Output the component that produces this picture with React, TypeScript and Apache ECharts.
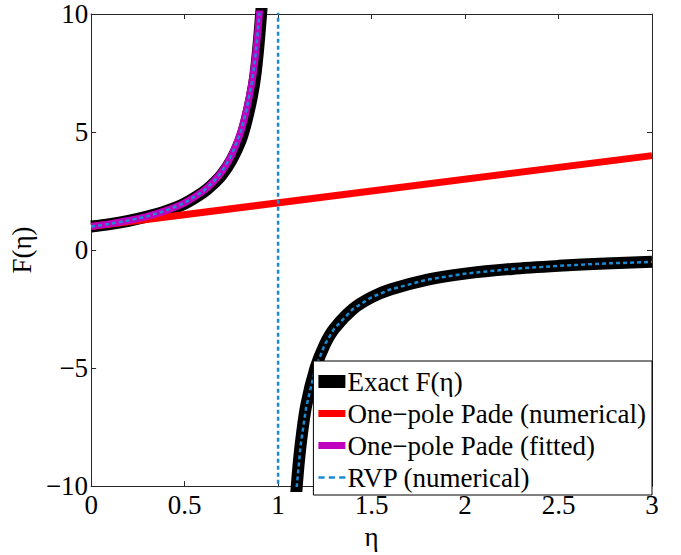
import React, { useEffect, useRef } from "react";
import * as echarts from "echarts";

// x values (eta) for the branch left of the pole
const etaUpper = [0, 0.1, 0.2, 0.3, 0.4, 0.5, 0.6, 0.65, 0.7, 0.75, 0.8, 0.83, 0.86, 0.88, 0.9, 0.92, 0.94];
// x values (eta) for the branch right of the pole
const etaLower = [1.07, 1.08, 1.1, 1.12, 1.15, 1.2, 1.25, 1.3, 1.4, 1.5, 1.6, 1.8, 2.0, 2.25, 2.5, 2.75, 3.0];

// Exact F(eta)
const exactUpper = [1.0, 1.1, 1.24, 1.42, 1.65, 1.97, 2.45, 2.78, 3.2, 3.8, 4.65, 5.45, 6.5, 7.5, 9.1, 11.2, 14.0];
const exactLower = [-14.0, -12.5, -10.0, -8.3, -6.6, -5.0, -4.0, -3.33, -2.5, -2.0, -1.67, -1.25, -1.0, -0.8, -0.67, -0.57, -0.5];

// One-pole Pade (numerical): straight line
const padeNumEta = [0, 3];
const padeNumVal = [1.0, 4.0];

// One-pole Pade (fitted): only left of the pole
const padeFitVal = [1.0, 1.11, 1.25, 1.43, 1.67, 2.0, 2.5, 2.86, 3.33, 4.0, 5.0, 5.9, 7.1, 8.3, 10.0, 12.5, 16.7];

// RVP (numerical)
const rvpUpper = [1.0, 1.11, 1.25, 1.43, 1.67, 2.0, 2.5, 2.86, 3.33, 4.0, 5.0, 5.9, 7.1, 8.3, 10.0, 12.5, 16.7];
const rvpLower = [-14.3, -12.5, -10.0, -8.3, -6.67, -5.0, -4.0, -3.33, -2.5, -2.0, -1.67, -1.25, -1.0, -0.8, -0.67, -0.57, -0.5];
const rvpPoleEta = 1;
const rvpPoleJump = [60, -60];

const xTicks = [0, 0.5, 1, 1.5, 2, 2.5, 3];
const yTicks = [-10, -5, 0, 5, 10];

const legendNames = [
  "Exact F(η)",
  "One−pole Pade (numerical)",
  "One−pole Pade (fitted)",
  "RVP (numerical)",
];

const FONT = "Liberation Serif";

export default function App() {
  const ref = useRef<HTMLDivElement>(null);
  useEffect(() => {
    if (!ref.current) return;
    const chart = echarts.init(ref.current, null, { renderer: "svg" });

    const zip = (xs: number[], ys: number[]) => xs.map((x, i) => [x, ys[i]]);
    const exactData: any[] = [...zip(etaUpper, exactUpper), [null, null], ...zip(etaLower, exactLower)];
    const rvpData: any[] = [
      ...zip(etaUpper, rvpUpper),
      [rvpPoleEta, rvpPoleJump[0]],
      [rvpPoleEta, rvpPoleJump[1]],
      ...zip(etaLower, rvpLower),
    ];

    const fmtNum = (v: number) => (v < 0 ? "−" + String(Math.abs(v)) : String(v));

    const axisLine = { show: true, onZero: false, lineStyle: { color: "#262626", width: 1 } };
    const axisTick = { show: true, inside: true, length: 5, lineStyle: { color: "#262626", width: 1 } };

    chart.setOption({
      animation: false,
      backgroundColor: "#ffffff",
      textStyle: { fontFamily: FONT },
      grid: { left: 90, right: 29, top: 14, bottom: 57, containLabel: false },
      xAxis: [
        {
          type: "value",
          min: xTicks[0],
          max: xTicks[xTicks.length - 1],
          interval: 0.5,
          position: "bottom",
          name: "η",
          nameLocation: "middle",
          nameGap: 23,
          nameTextStyle: { fontFamily: FONT, fontSize: 27, color: "#000" },
          axisLine,
          axisTick,
          splitLine: { show: false },
          axisLabel: {
            fontFamily: FONT,
            fontSize: 27,
            color: "#000",
            margin: 5,
            formatter: (v: number) => fmtNum(v),
          },
        },
        {
          type: "value",
          min: xTicks[0],
          max: xTicks[xTicks.length - 1],
          interval: 0.5,
          position: "top",
          axisLine,
          axisTick,
          splitLine: { show: false },
          axisLabel: { show: false },
        },
      ],
      yAxis: [
        {
          type: "value",
          min: yTicks[0],
          max: yTicks[yTicks.length - 1],
          interval: 5,
          position: "left",
          name: "F(η)",
          nameLocation: "middle",
          nameGap: 52,
          nameTextStyle: { fontFamily: FONT, fontSize: 27, color: "#000" },
          axisLine,
          axisTick,
          splitLine: { show: false },
          axisLabel: {
            fontFamily: FONT,
            fontSize: 27,
            color: "#000",
            margin: 3,
            formatter: (v: number) => fmtNum(v),
          },
        },
        {
          type: "value",
          min: yTicks[0],
          max: yTicks[yTicks.length - 1],
          interval: 5,
          position: "right",
          axisLine,
          axisTick,
          splitLine: { show: false },
          axisLabel: { show: false },
        },
      ],
      legend: {
        orient: "vertical",
        right: 29,
        bottom: 60,
        padding: [7, 6, 4, 5],
        itemGap: 5,
        itemWidth: 27,
        itemHeight: 13,
        backgroundColor: "#ffffff",
        borderColor: "#000000",
        borderWidth: 1,
        borderRadius: 0,
        itemStyle: { borderWidth: 0 },
        textStyle: { fontFamily: FONT, fontSize: 27, color: "#000", lineHeight: 27, padding: [0, 0, 0, -3] },
        data: [
          { name: legendNames[0], icon: "path://M0,0H27V13H0Z" },
          { name: legendNames[1], icon: "path://M0,0H27V7H0Z" },
          { name: legendNames[2], icon: "path://M0,0H27V7H0Z" },
          { name: legendNames[3], icon: "path://M0,0H6V2.5H0Z M10,0H16V2.5H10Z M20,0H26V2.5H20Z" },
        ],
      },
      series: [
        {
          name: legendNames[0],
          type: "line",
          data: exactData,
          showSymbol: false,
          symbol: "none",
          connectNulls: false,
          smooth: 0.3,
          lineStyle: { color: "#000000", width: 12 },
          itemStyle: { color: "#000000" },
          clip: true,
        },
        {
          name: legendNames[1],
          type: "line",
          data: zip(padeNumEta, padeNumVal),
          showSymbol: false,
          symbol: "none",
          lineStyle: { color: "#ff0000", width: 7 },
          itemStyle: { color: "#ff0000" },
          clip: true,
        },
        {
          name: legendNames[2],
          type: "line",
          data: zip(etaUpper, padeFitVal),
          showSymbol: false,
          symbol: "none",
          smooth: 0.3,
          lineStyle: { color: "#bf00bf", width: 7 },
          itemStyle: { color: "#bf00bf" },
          clip: true,
        },
        {
          name: legendNames[3],
          type: "line",
          data: rvpData,
          showSymbol: false,
          symbol: "none",
          lineStyle: { color: "#1a8ad2", width: 2.5, type: [4, 3] },
          itemStyle: { color: "#1a8ad2" },
          clip: true,
        },
      ],
    });
    return () => chart.dispose();
  }, []);

  return (
    <div
      ref={ref}
      style={{ position: "absolute", left: 0, top: 0, width: 681, height: 555, background: "#fff" }}
    />
  );
}
